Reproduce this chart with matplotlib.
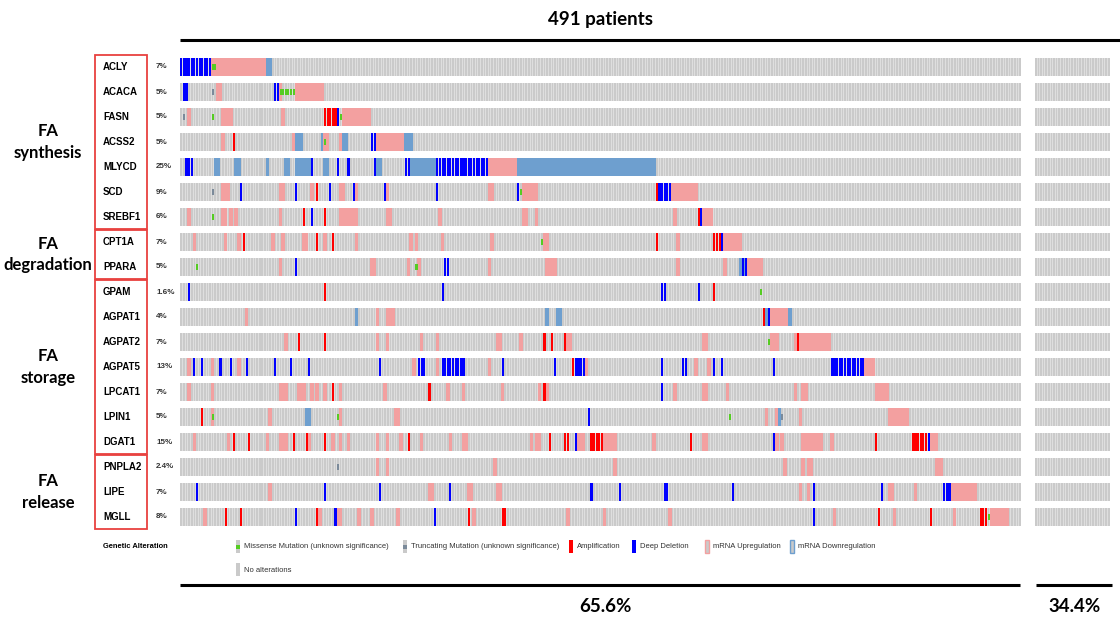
"""Oncoprint of fatty-acid metabolism genes (491 patients)."""

import matplotlib.pyplot as plt
import numpy as np
from matplotlib.patches import Rectangle

genes = ["ACLY", "ACACA", "FASN", "ACSS2", "MLYCD", "SCD", "SREBF1",
         "CPT1A", "PPARA",
         "GPAM", "AGPAT1", "AGPAT2", "AGPAT5", "LPCAT1", "LPIN1", "DGAT1",
         "PNPLA2", "LIPE", "MGLL"]
percents = ["7%", "5%", "5%", "5%", "25%", "9%", "6%",
            "7%", "5%",
            "1.6%", "4%", "7%", "13%", "7%", "5%", "15%",
            "2.4%", "7%", "8%"]

groups = ["FA\nsynthesis", "FA\ndegradation", "FA\nstorage", "FA\nrelease"]
group_rows = [(0, 7), (7, 9), (9, 16), (16, 19)]

n_altered = 322      # 65.6% of 491
n_unaltered_shown = 29
pct_altered = "65.6%"
pct_unaltered = "34.4%"

# alterations per gene: (kind, first column, stop column)
ACLY = [("del", 0, 12), ("up", 12, 33), ("down", 33, 35), ("mis", 12, 14)]
ACACA = [("del", 1, 3), ("trunc", 12, 13), ("up", 14, 16), ("del", 36, 38),
         ("up", 38, 39), ("mis", 38, 44), ("up", 44, 55)]
FASN = [("trunc", 1, 2), ("up", 3, 4), ("mis", 12, 13), ("up", 16, 20),
        ("up", 39, 40), ("amp", 55, 60), ("del", 60, 61), ("mis", 61, 62),
        ("up", 62, 73)]
ACSS2 = [("up", 16, 17), ("amp", 20, 21), ("up", 43, 44), ("down", 44, 47),
         ("down", 54, 55), ("up", 55, 57), ("mis", 55, 56), ("up", 61, 62),
         ("down", 62, 64), ("del", 73, 75), ("up", 75, 86), ("down", 86, 89)]
MLYCD = [("del", 2, 5), ("down", 13, 15), ("down", 21, 23), ("down", 33, 34),
         ("down", 40, 42), ("down", 44, 50), ("del", 50, 51), ("down", 55, 57),
         ("del", 60, 61), ("del", 64, 65), ("del", 74, 75), ("down", 75, 77),
         ("del", 86, 88), ("down", 88, 98), ("del", 98, 118), ("up", 118, 129),
         ("down", 129, 182)]
SCD = [("trunc", 12, 13), ("up", 16, 19), ("del", 23, 24), ("up", 38, 40),
       ("del", 44, 45), ("up", 50, 51), ("amp", 52, 53), ("del", 57, 58),
       ("up", 61, 63), ("del", 66, 67), ("up", 67, 68), ("del", 78, 79),
       ("up", 79, 80), ("del", 98, 99), ("up", 118, 120), ("del", 129, 130),
       ("mis", 130, 131), ("up", 131, 137), ("amp", 182, 183), ("del", 183, 188),
       ("up", 188, 198)]
SREBF1 = [("up", 3, 4), ("mis", 12, 13), ("up", 16, 18), ("up", 19, 20),
          ("up", 21, 22), ("up", 38, 39), ("amp", 47, 48), ("del", 50, 51),
          ("amp", 55, 56), ("up", 61, 68), ("up", 79, 81), ("up", 99, 100),
          ("up", 131, 133), ("up", 136, 137), ("up", 189, 190), ("amp", 198, 199),
          ("del", 199, 200), ("up", 200, 204)]
CPT1A = [("up", 5, 6), ("up", 17, 18), ("up", 22, 23), ("amp", 24, 25),
         ("up", 35, 36), ("up", 39, 40), ("up", 47, 49), ("amp", 52, 53),
         ("up", 55, 56), ("amp", 58, 59), ("up", 67, 68), ("up", 88, 89),
         ("up", 90, 91), ("up", 100, 101), ("up", 119, 120), ("mis", 138, 139),
         ("up", 139, 141), ("amp", 182, 183), ("up", 190, 191), ("amp", 204, 207),
         ("del", 207, 208), ("up", 208, 215)]
PPARA = [("mis", 6, 7), ("up", 38, 39), ("del", 44, 45), ("up", 73, 75),
         ("up", 87, 88), ("up", 91, 92), ("mis", 90, 91), ("del", 101, 103),
         ("up", 118, 119), ("up", 140, 144), ("up", 190, 191), ("up", 208, 209),
         ("down", 214, 217), ("del", 215, 217), ("up", 217, 223)]
GPAM = [("del", 3, 4), ("amp", 55, 56), ("del", 100, 101), ("del", 184, 186),
        ("del", 198, 199), ("amp", 204, 205), ("mis", 222, 223)]
AGPAT1 = [("up", 25, 26), ("down", 67, 68), ("up", 75, 76), ("up", 79, 82),
          ("down", 140, 141), ("down", 144, 146), ("amp", 223, 224),
          ("down", 224, 226), ("del", 225, 226), ("up", 226, 233),
          ("down", 233, 234)]
AGPAT2 = [("up", 40, 41), ("amp", 45, 46), ("amp", 55, 56), ("up", 75, 76),
          ("up", 79, 80), ("up", 92, 93), ("up", 98, 99), ("up", 121, 123),
          ("up", 130, 131), ("amp", 139, 140), ("amp", 142, 143),
          ("amp", 147, 148), ("up", 148, 150), ("up", 200, 202),
          ("mis", 225, 226), ("up", 226, 229), ("up", 235, 236),
          ("amp", 236, 237), ("up", 237, 249)]
AGPAT5 = [("up", 3, 4), ("del", 5, 6), ("del", 8, 9), ("up", 12, 13),
          ("del", 15, 16), ("del", 19, 20), ("up", 22, 23), ("del", 25, 26),
          ("del", 36, 37), ("del", 42, 43), ("del", 49, 50), ("del", 76, 77),
          ("up", 89, 90), ("del", 91, 94), ("up", 98, 99), ("del", 100, 109),
          ("up", 118, 119), ("del", 123, 124), ("del", 143, 144),
          ("amp", 150, 151), ("del", 151, 155), ("up", 155, 156),
          ("del", 184, 185), ("del", 192, 194), ("up", 197, 198),
          ("up", 202, 203), ("del", 204, 205), ("del", 207, 208),
          ("del", 227, 228), ("del", 249, 262), ("up", 262, 266)]
LPCAT1 = [("up", 3, 4), ("up", 12, 13), ("up", 38, 41), ("up", 45, 48),
          ("up", 50, 51), ("up", 52, 53), ("up", 55, 56), ("amp", 58, 59),
          ("up", 61, 62), ("up", 78, 79), ("amp", 95, 96), ("up", 102, 103),
          ("up", 108, 109), ("up", 123, 124), ("up", 137, 138),
          ("amp", 139, 140), ("up", 140, 141), ("del", 184, 185),
          ("up", 189, 190), ("up", 200, 202), ("up", 209, 210),
          ("up", 235, 236), ("up", 238, 240), ("up", 266, 271)]
LPIN1 = [("amp", 8, 9), ("up", 12, 13), ("mis", 12, 13), ("up", 34, 35),
         ("down", 48, 50), ("mis", 60, 61), ("up", 61, 62), ("up", 82, 84),
         ("del", 156, 157), ("mis", 210, 211), ("up", 224, 225),
         ("up", 228, 229), ("down", 229, 230), ("trunc", 230, 231),
         ("up", 237, 238), ("up", 271, 279)]
DGAT1 = [("up", 5, 6), ("up", 18, 19), ("amp", 20, 21), ("amp", 26, 27),
         ("up", 33, 34), ("up", 38, 41), ("amp", 43, 44), ("amp", 48, 49),
         ("up", 49, 50), ("amp", 55, 56), ("up", 58, 59), ("up", 61, 62),
         ("up", 64, 65), ("up", 75, 76), ("up", 79, 80), ("up", 84, 85),
         ("amp", 87, 88), ("up", 92, 93), ("up", 103, 104), ("up", 108, 110),
         ("up", 134, 135), ("up", 136, 138), ("amp", 141, 142),
         ("amp", 147, 149), ("del", 151, 152), ("up", 152, 155),
         ("amp", 157, 162), ("up", 162, 167), ("up", 181, 182),
         ("amp", 195, 196), ("up", 200, 202), ("del", 227, 228),
         ("up", 228, 229), ("up", 230, 231), ("up", 238, 246),
         ("up", 249, 250), ("amp", 266, 267), ("amp", 280, 286),
         ("del", 286, 287), ("up", 287, 290)]
PNPLA2 = [("trunc", 60, 61), ("up", 75, 76), ("up", 79, 80), ("up", 120, 121),
          ("up", 166, 167), ("up", 231, 232), ("up", 238, 239),
          ("up", 240, 242), ("up", 289, 292)]
LIPE = [("del", 6, 7), ("up", 34, 35), ("del", 55, 56), ("del", 76, 77),
        ("up", 95, 97), ("del", 103, 104), ("up", 110, 112), ("up", 121, 123),
        ("del", 157, 158), ("del", 168, 169), ("del", 185, 187),
        ("del", 211, 212), ("up", 237, 238), ("up", 240, 241),
        ("del", 242, 243), ("del", 268, 269), ("up", 271, 273),
        ("up", 281, 282), ("del", 292, 295), ("up", 295, 305)]
MGLL = [("up", 9, 10), ("amp", 17, 18), ("amp", 23, 24), ("del", 44, 45),
        ("amp", 52, 53), ("up", 53, 54), ("del", 59, 60), ("up", 60, 62),
        ("up", 68, 69), ("up", 73, 74), ("up", 83, 84), ("del", 97, 98),
        ("amp", 110, 111), ("up", 112, 113), ("amp", 123, 125),
        ("up", 148, 149), ("up", 162, 163), ("up", 187, 188),
        ("del", 242, 243), ("up", 250, 251), ("amp", 267, 268),
        ("up", 273, 274), ("amp", 287, 288), ("up", 296, 297),
        ("amp", 306, 309), ("mis", 309, 310), ("up", 310, 317)]

alterations = [ACLY, ACACA, FASN, ACSS2, MLYCD, SCD, SREBF1, CPT1A, PPARA,
               GPAM, AGPAT1, AGPAT2, AGPAT5, LPCAT1, LPIN1, DGAT1,
               PNPLA2, LIPE, MGLL]

legend_labels = ["Missense Mutation (unknown significance)",
                 "Truncating Mutation (unknown significance)",
                 "Amplification", "Deep Deletion",
                 "mRNA Upregulation", "mRNA Downregulation"]

# kind -> (colour, width, height, draw order)
STYLE = {
    "up": ("#f3a0a0", 1.35, 0.74, 1),
    "down": ("#6e9fcf", 1.35, 0.74, 1),
    "amp": ("#ff0000", 0.8, 0.72, 2),
    "del": ("#0000ff", 0.8, 0.72, 2),
    "mis": ("#55cc22", 0.8, 0.26, 3),
    "trunc": ("#7b8a9a", 0.8, 0.26, 3),
}
GRAY = "#cacaca"
GRAY_BG = "#dedede"
BOX_RED = "#e8413f"

W, H = 1120, 621
fig = plt.figure(figsize=(W / 100, H / 100), dpi=100)
plt.rcParams["font.family"] = ["Liberation Sans", "DejaVu Sans"]

unalt_start = n_altered + 5
n_cols = unalt_start + n_unaltered_shown
ax = fig.add_axes([180 / W, 1 - 529.5 / H, 932 / W, 475 / H])
ax.set_xlim(0, n_cols + 0.7)
ax.set_ylim(len(genes), 0)
ax.axis("off")

cols = np.concatenate([np.arange(n_altered),
                       np.arange(unalt_start, unalt_start + n_unaltered_shown)])
for r, gene_alts in enumerate(alterations):
    # soft row background so the column stripes stay subtle
    for x0, n in [(0, n_altered), (unalt_start, n_unaltered_shown)]:
        ax.add_patch(Rectangle((x0 + 0.1, r + 0.5 - 0.36), n - 0.2, 0.72,
                               color=GRAY_BG, lw=0, zorder=0))
    ax.bar(cols + 0.5, 0.72, width=0.62, bottom=r + 0.5 - 0.36,
           color=GRAY, linewidth=0, zorder=1)
    for kind, a, b in sorted(gene_alts, key=lambda t: STYLE[t[0]][3]):
        color, w, h, z = STYLE[kind]
        x = np.arange(a, b) + 0.5
        ax.bar(x, h, width=w, bottom=r + 0.5 - h / 2, color=color,
               linewidth=0, zorder=2 + z)

# annotation layer in pixel coordinates
ov = fig.add_axes([0, 0, 1, 1], zorder=-1)
ov.set_xlim(0, W)
ov.set_ylim(H, 0)
ov.axis("off")

row_y = lambda r: 54.5 + (r + 0.5) * 25.0
for r, (g, p) in enumerate(zip(genes, percents)):
    ov.text(103, row_y(r), g, fontsize=7, fontweight="bold",
            va="center", ha="left")
    ov.text(156, row_y(r), p, fontsize=5.8, fontweight="bold",
            va="center", ha="left", color="#333333")

for label, (r0, r1) in zip(groups, group_rows):
    top = row_y(r0) - 12
    bot = row_y(r1 - 1) + 12
    ov.add_patch(Rectangle((95, top), 52, bot - top, fill=False,
                           edgecolor=BOX_RED, linewidth=1.3))
    ov.text(48, (top + bot) / 2, label, fontsize=12, fontweight="bold",
            ha="center", va="center", family=["Lato", "DejaVu Sans"],
            linespacing=1.45)

# title and brackets
ov.text(600, 20, "491 patients", fontsize=13.5, fontweight="bold",
        ha="center", va="center", family=["Lato", "DejaVu Sans"])
ov.plot([180, 1120], [40, 40], color="black", linewidth=2.2,
        solid_capstyle="butt")
ov.plot([180, 1020], [585, 585], color="black", linewidth=2.2,
        solid_capstyle="butt")
ov.plot([1036, 1112], [585, 585], color="black", linewidth=2.2,
        solid_capstyle="butt")
ov.text(605, 607, pct_altered, fontsize=13.5, fontweight="bold",
        ha="center", va="center", family=["Lato", "DejaVu Sans"])
ov.text(1075, 607, pct_unaltered, fontsize=13.5, fontweight="bold",
        ha="center", va="center", family=["Lato", "DejaVu Sans"])

# legend
ov.text(103, 546, "Genetic Alteration", fontsize=5.4, fontweight="bold",
        ha="left", va="center")
legend_kinds = ["mis", "trunc", "amp", "del", "up", "down"]
legend_x = [238, 405, 571, 634, 707, 792]
for kind, lx, lab in zip(legend_kinds, legend_x, legend_labels):
    color = STYLE[kind][0]
    if kind in ("amp", "del"):
        ov.add_patch(Rectangle((lx - 2, 540), 4, 13, color=color, lw=0))
    elif kind in ("up", "down"):
        ov.add_patch(Rectangle((lx - 2, 540), 4, 13, facecolor=GRAY,
                               edgecolor=color, lw=1.0))
    else:
        ov.add_patch(Rectangle((lx - 2, 540), 4, 13, color=GRAY, lw=0))
        ov.add_patch(Rectangle((lx - 2, 544.5), 4, 4, color=color, lw=0))
    ov.text(lx + 6, 547, lab, fontsize=5.5, ha="left", va="center",
            color="#333333")
ov.add_patch(Rectangle((236, 563), 4, 13, color=GRAY, lw=0))
ov.text(244, 570, "No alterations", fontsize=5.5, ha="left", va="center",
        color="#333333")

fig.savefig("out.png", dpi=100)
plt.close(fig)
